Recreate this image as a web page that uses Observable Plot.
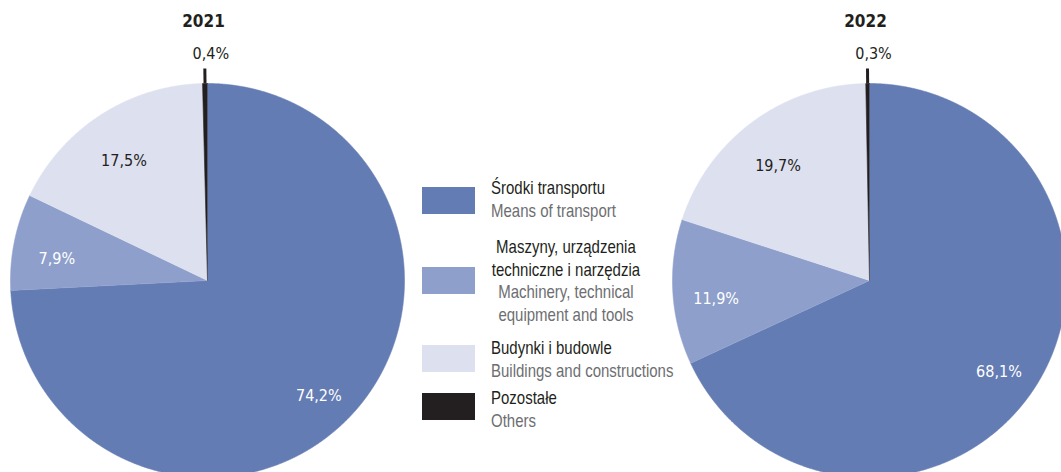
<!DOCTYPE html>
<html><head><meta charset="utf-8">
<script src="https://cdn.jsdelivr.net/npm/d3@7"></script>
<script src="https://cdn.jsdelivr.net/npm/@observablehq/plot@0.6"></script>
<style>
body{margin:0;background:#fff;font-family:"Liberation Sans",Arial,sans-serif;}
#wrap{position:relative;width:1061px;height:472px;overflow:hidden;}
.sw{position:absolute;width:53px;height:27px;}
.lt{position:absolute;font-family:"Liberation Sans",Arial,sans-serif;font-size:18.5px;line-height:22.5px;white-space:pre;transform:scaleX(0.81);transform-origin:0 0;}
.pl{color:#231f20;}
.en{color:#6d6e71;}
</style></head><body><div id="wrap"></div>
<script>
// ---- data ----
const years = ["2021", "2022"];
const categories = ["Środki transportu", "Maszyny, urządzenia techniczne i narzędzia", "Budynki i budowle", "Pozostałe"];
const legendPL = ["Środki transportu", "Maszyny, urządzenia\ntechniczne i narzędzia", "Budynki i budowle", "Pozostałe"];
const legendEN = ["Means of transport", "Machinery, technical\nequipment and tools", "Buildings and constructions", "Others"];
const share2021 = [74.2, 7.9, 17.5, 0.4];
const share2022 = [68.1, 11.9, 19.7, 0.3];
const colors = ["#647cb4", "#8e9fcb", "#dde0ef", "#231f20"];
const labelColors = ["#ffffff", "#ffffff", "#231f20", "#231f20"];

// ---- layout ----
const W = 1061, H = 472, R = 197;
const centers = [{cx: 207, cy: 280}, {cx: 869, cy: 280}];
const fmt = v => v.toFixed(1).replace(".", ",") + "%";

const polys = [], labels = [], smallTicks = [], smallLabels = [], titles = [];
[share2021, share2022].forEach((vals, yi) => {
  const {cx, cy} = centers[yi];
  titles.push({x: cx - 4, y: 21, t: years[yi]});
  const arcs = d3.pie().sort(null)(vals);
  arcs.forEach((a, i) => {
    const key = years[yi] + "-" + i;
    const pt = (ang, r) => ({x: cx + r * Math.sin(ang), y: cy - r * Math.cos(ang)});
    polys.push({key, cat: categories[i], ...pt(0, 0)});
    const n = Math.max(2, Math.ceil((a.endAngle - a.startAngle) / 0.004));
    for (let k = 0; k <= n; k++) {
      const ang = a.startAngle + (a.endAngle - a.startAngle) * k / n;
      polys.push({key, cat: categories[i], ...pt(ang, R)});
    }
    const mid = (a.startAngle + a.endAngle) / 2;
    if (vals[i] >= 2) {
      labels.push({...pt(mid, R * 0.78), t: fmt(vals[i]), c: labelColors[i]});
    } else {
      const p1 = pt(mid, R), p2 = pt(mid, R + 15);
      smallTicks.push({x1: p1.x, y1: p1.y, x2: p2.x, y2: p2.y});
      smallLabels.push({x: p2.x + 6, y: p2.y - 15, t: fmt(vals[i])});
    }
  });
});

const font = '"DejaVu Sans Condensed","DejaVu Sans",sans-serif';
const chart = Plot.plot({
  width: W, height: H, margin: 0,
  style: {fontFamily: font, fontSize: "16px", overflow: "hidden"},
  x: {domain: [0, W], range: [0, W], axis: null},
  y: {domain: [0, H], range: [0, H], axis: null},
  color: {domain: categories, range: colors},
  marks: [
    Plot.line(polys, {x: "x", y: "y", z: "key", fill: "cat", stroke: "cat", strokeWidth: 0.6, curve: "linear"}),
    Plot.text(labels, {x: "x", y: "y", text: "t", fill: d => d.c, fontSize: 16, dy: 9}),
    Plot.link(smallTicks, {x1: "x1", y1: "y1", x2: "x2", y2: "y2", stroke: "#231f20", strokeWidth: 3}),
    Plot.text(smallLabels, {x: "x", y: "y", text: "t", fill: "#231f20", fontSize: 16}),
    Plot.text(titles, {x: "x", y: "y", text: "t", fill: "#231f20", fontSize: 17, fontWeight: "bold"})
  ]
});
const wrap = document.getElementById("wrap");
wrap.appendChild(chart);

// ---- legend ----
const swTop = [187, 267, 345, 393];
const txtTop = [177, 236, 337, 387];
categories.forEach((c, i) => {
  const s = document.createElement("div");
  s.className = "sw";
  s.style.left = "422px"; s.style.top = swTop[i] + "px"; s.style.background = colors[i];
  wrap.appendChild(s);
  const t = document.createElement("div");
  t.className = "lt";
  t.style.left = "491px"; t.style.top = txtTop[i] + "px";
  if (legendPL[i].includes("\n")) { t.style.width = "185px"; t.style.textAlign = "center"; }
  const a = document.createElement("div"); a.className = "pl"; a.textContent = legendPL[i];
  const b = document.createElement("div"); b.className = "en"; b.textContent = legendEN[i];
  t.appendChild(a); t.appendChild(b);
  wrap.appendChild(t);
});
</script></body></html>
